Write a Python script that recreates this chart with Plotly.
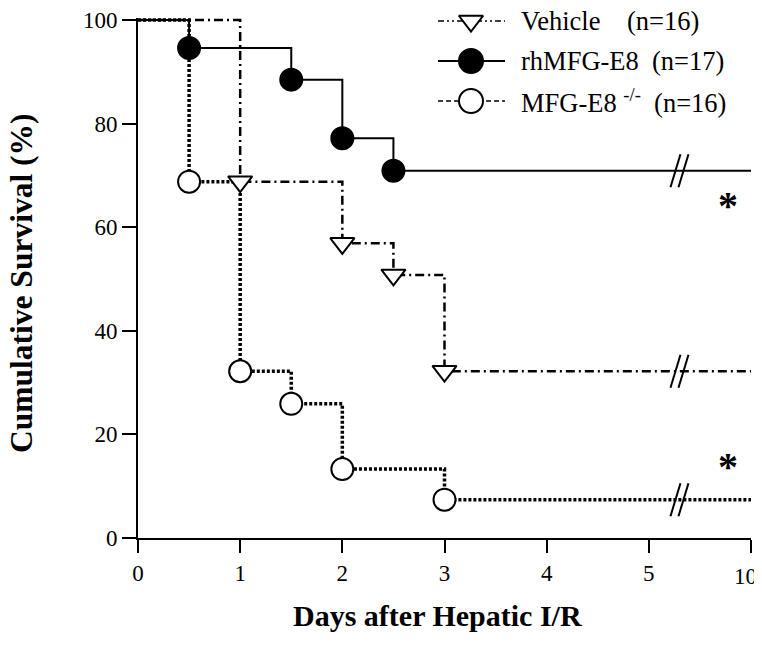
import plotly.graph_objects as go

# ---------------- data ----------------
days_vehicle = [0, 1, 2, 2.5, 3, 10]
surv_vehicle = [100, 68.8, 56.9, 50.8, 32.2, 32.2]

days_rh = [0, 0.5, 1.5, 2, 2.5, 10]
surv_rh = [100, 94.6, 88.5, 77.2, 70.9, 70.9]

days_ko = [0, 0.5, 1, 1.5, 2, 3, 10]
surv_ko = [100, 68.8, 32.2, 25.9, 13.3, 7.4, 7.4]

tick_days = [0, 1, 2, 3, 4, 5, 10]
y_ticks = [0, 20, 40, 60, 80, 100]

legend_labels = ["Vehicle&nbsp;&nbsp;&nbsp;&nbsp;(n=16)",
                 "rhMFG-E8&nbsp;&nbsp;(n=17)",
                 "MFG-E8 <sup>-/-</sup>&nbsp;&nbsp;(n=16)"]

FONT = "Liberation Serif, Times New Roman, serif"


def pos(d):
    """broken x axis: 0..5 linear, 5..10 squeezed into one unit"""
    return d if d <= 5 else 5 + (d - 5) / 5.0


# page layout (the page body adds an 8px offset)
OFF = 8
PAGE_W, PAGE_H = 762, 652
PL, PR, PT, PB = 138, 751, 18, 538          # plot area in page pixels
W, H = PAGE_W - OFF, PAGE_H - OFF
ML, MT = PL - OFF, PT - OFF
MR = W - (PR - OFF)
MB = H - (PB - OFF)
XR = [0, 6]
YR = [0, 100.4]
pxx = (PR - PL) / (XR[1] - XR[0])
pxy = (PB - PT) / (YR[1] - YR[0])


def paper_x(px):
    return (px - PL) / (PR - PL)


def paper_y(py):
    return (PB - py) / (PB - PT)


fig = go.Figure()

series = [
    dict(d=days_vehicle, s=surv_vehicle, dash="9px,4px,2px,4px", lw=2.5,
         sym="triangle-down", msize=21, mfill="white"),
    dict(d=days_rh, s=surv_rh, dash="solid", lw=2,
         sym="circle", msize=22, mfill="black"),
    dict(d=days_ko, s=surv_ko, dash="3px,2px", lw=3.5,
         sym="circle", msize=22, mfill="white"),
]

for sr in series:
    xs = [pos(v) for v in sr["d"]]
    fig.add_trace(go.Scatter(x=xs, y=sr["s"], mode="lines", line_shape="hv",
                             line=dict(color="black", width=sr["lw"], dash=sr["dash"]),
                             showlegend=False, hoverinfo="skip", cliponaxis=False))
for sr in series:
    xs = [pos(v) for v in sr["d"]]
    fig.add_trace(go.Scatter(x=xs[1:-1], y=sr["s"][1:-1], mode="markers",
                             marker=dict(symbol=sr["sym"], size=sr["msize"], color=sr["mfill"],
                                         line=dict(color="black", width=2)),
                             showlegend=False, hoverinfo="skip", cliponaxis=False))

# ---------------- axis-break slashes ----------------
break_x = 5.3
shapes = []
for sr in series:
    cy = sr["s"][-1]
    for off in (-4, 4):
        x0 = break_x + (off - 5) / pxx
        x1 = break_x + (off + 5) / pxx
        shapes.append(dict(type="line", xref="x", yref="y",
                           x0=x0, x1=x1, y0=cy - 16.5 / pxy, y1=cy + 16.5 / pxy,
                           line=dict(color="black", width=2)))

# ---------------- custom legend (page pixel coords on overlay axes) ----------------
leg_rows = [21, 61, 101]
leg_styles = [
    dict(dash="6px,3px,2px,3px,2px,3px", lw=1.5, sym="triangle-down", msize=21, mfill="white"),
    dict(dash="solid", lw=2, sym="circle", msize=24, mfill="black"),
    dict(dash="5px,3px", lw=1.5, sym="circle", msize=24, mfill="white"),
]
annotations = []
for yrow, st, lab in zip(leg_rows, leg_styles, legend_labels):
    fig.add_trace(go.Scatter(x=[438, 505], y=[yrow, yrow], mode="lines", xaxis="x2", yaxis="y2",
                             line=dict(color="black", width=st["lw"], dash=st["dash"]),
                             showlegend=False, hoverinfo="skip", cliponaxis=False))
    fig.add_trace(go.Scatter(x=[471], y=[yrow], mode="markers", xaxis="x2", yaxis="y2",
                             marker=dict(symbol=st["sym"], size=st["msize"], color=st["mfill"],
                                         line=dict(color="black", width=2)),
                             showlegend=False, hoverinfo="skip", cliponaxis=False))
    annotations.append(dict(x=paper_x(519), y=paper_y(yrow), xref="paper", yref="paper",
                            text=lab, showarrow=False, xanchor="left", yanchor="middle",
                            font=dict(family=FONT, size=26.5, color="black")))

# significance asterisks
for yy in (205, 466):
    annotations.append(dict(x=paper_x(728), y=paper_y(yy), xref="paper", yref="paper",
                            text="<b>*</b>", showarrow=False, xanchor="center", yanchor="middle",
                            font=dict(family=FONT, size=40, color="black")))

# last x tick label (drawn as text so it is not clipped at the page edge)
tick_text = [str(d) for d in tick_days]
annotations.append(dict(x=paper_x(745), y=paper_y(576), xref="paper", yref="paper",
                        text=tick_text[-1], showarrow=False, xanchor="center", yanchor="middle",
                        font=dict(family=FONT, size=23, color="black")))
axis_ticktext = tick_text[:-1] + [""]

# axis titles
annotations.append(dict(x=paper_x(437), y=paper_y(615), xref="paper", yref="paper",
                        text="<b>Days after Hepatic I/R</b>",
                        showarrow=False, xanchor="center", yanchor="middle",
                        font=dict(family=FONT, size=30, color="black")))
annotations.append(dict(x=paper_x(21), y=paper_y(283), xref="paper", yref="paper",
                        text="<b>Cumulative Survival (%)</b>",
                        showarrow=False, xanchor="center", yanchor="middle", textangle=-90,
                        font=dict(family=FONT, size=31.5, color="black")))

fig.update_layout(
    width=W, height=H,
    margin=dict(l=ML, r=MR, t=MT, b=MB, pad=0, autoexpand=False),
    paper_bgcolor="white", plot_bgcolor="white",
    showlegend=False,
    shapes=shapes, annotations=annotations,
    xaxis=dict(range=XR, tickmode="array", tickvals=[pos(d) for d in tick_days],
               ticktext=axis_ticktext, ticks="outside", ticklen=13, tickwidth=2,
               tickcolor="black", showline=True, linecolor="black", linewidth=2,
               showgrid=False, zeroline=False, automargin=False, ticklabeloverflow="allow",
               tickfont=dict(family=FONT, size=23, color="black")),
    yaxis=dict(range=YR, tickmode="array", tickvals=y_ticks, ticks="outside", ticklen=14,
               tickwidth=2, tickcolor="black", showline=True, linecolor="black", linewidth=2,
               showgrid=False, zeroline=False, automargin=False, ticklabeloverflow="allow",
               tickfont=dict(family=FONT, size=23, color="black")),
    xaxis2=dict(range=[PL, PR], overlaying="x", visible=False, fixedrange=True, automargin=False),
    yaxis2=dict(range=[PB, PT], overlaying="y", visible=False, fixedrange=True, automargin=False),
)

fig.write_html("out.html")
